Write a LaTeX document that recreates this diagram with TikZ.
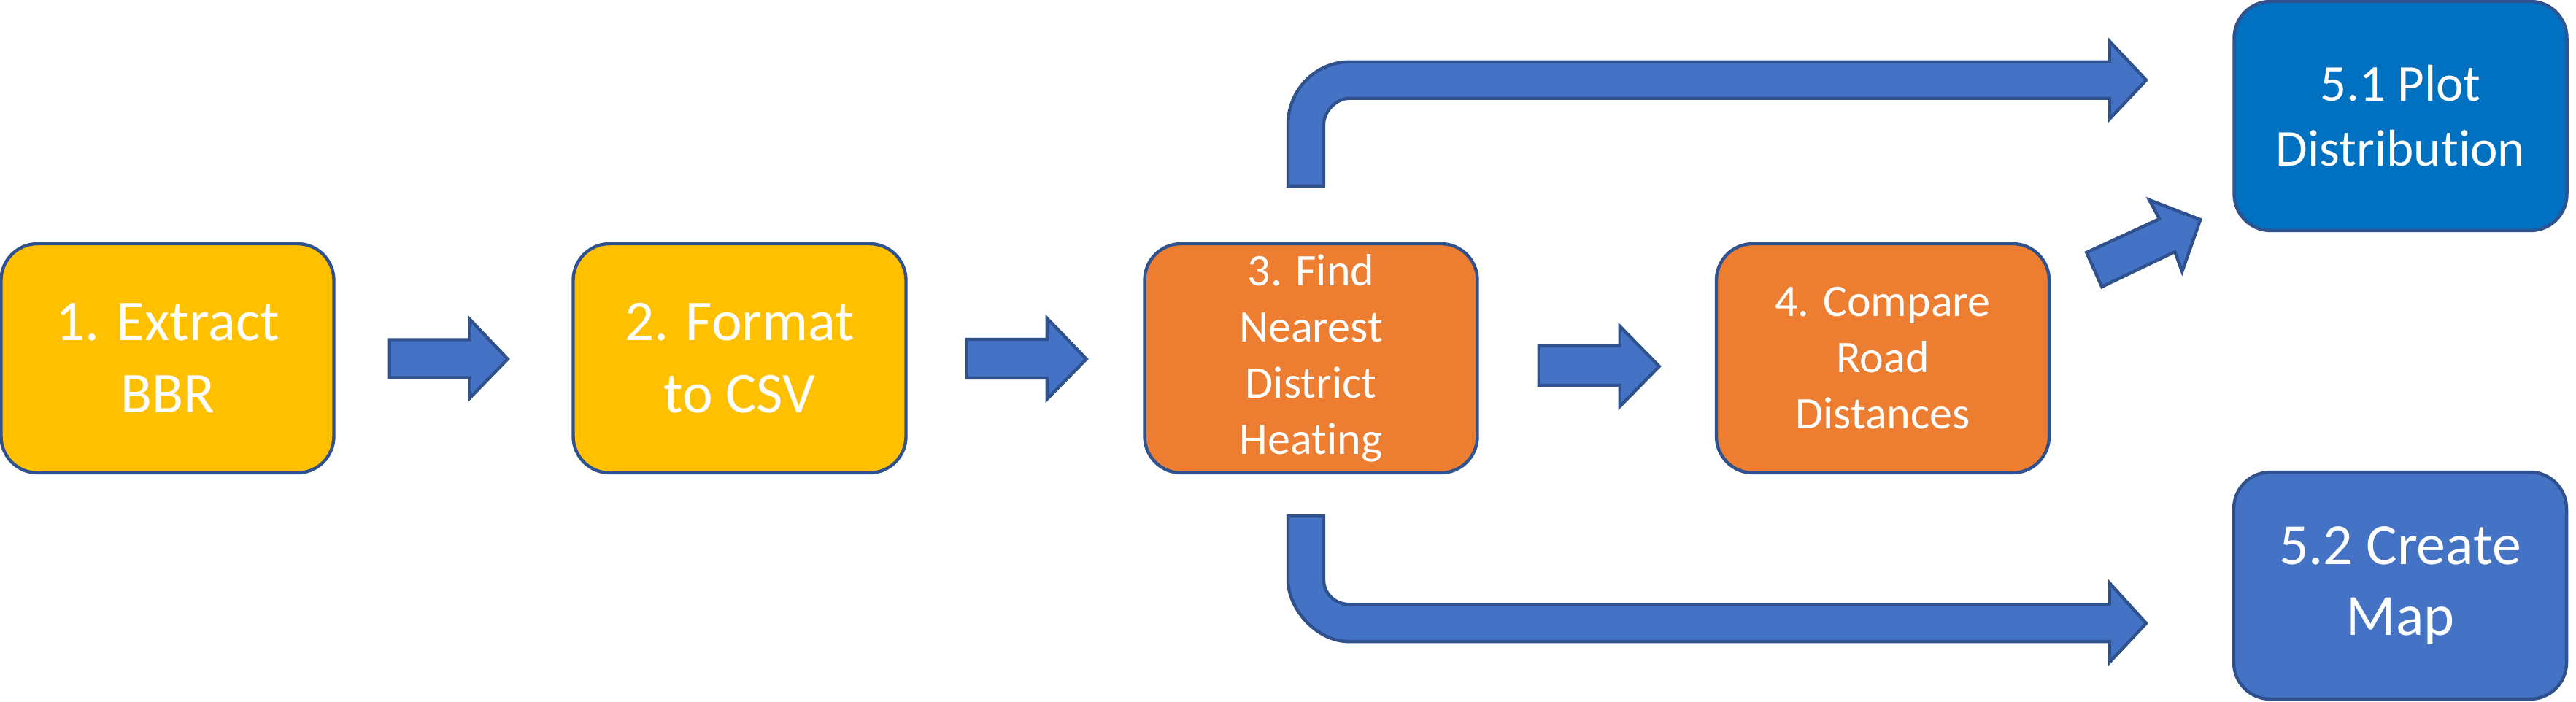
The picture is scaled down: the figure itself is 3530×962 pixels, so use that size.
\documentclass[tikz,border=0pt]{standalone}
\usepackage{fontspec}
\setmainfont{Carlito}[Ligatures=NoCommon]
\usetikzlibrary{calc}
\definecolor{yel}{HTML}{FFC000}
\definecolor{ora}{HTML}{ED7D31}
\definecolor{bluA}{HTML}{0070C0}
\definecolor{bluB}{HTML}{4472C4}
\definecolor{edgec}{HTML}{2F528F}
\begin{document}
\begin{tikzpicture}[x=0.25pt,y=-0.25pt,
  box/.style={draw=edgec,line width=1.1pt,rounded corners=12.5pt,
    minimum width=114pt,minimum height=78.5pt,inner sep=0pt,
    align=center,text=white},
  bigtxt/.style={font=\fontsize{19.75pt}{24.75pt}\selectfont},
  midtxt/.style={font=\fontsize{15.5pt}{19.25pt}\selectfont},
  plottxt/.style={font=\fontsize{17.75pt}{22.25pt}\selectfont},
  maptxt/.style={font=\fontsize{20pt}{24.25pt}\selectfont},
  barrow/.style={fill=bluB,draw=edgec,line width=1.1pt,line join=miter}]
\useasboundingbox (0,0) rectangle (3530,962);

\node[box,fill=yel,bigtxt] (b1) at (229.5,491) {1. Extract\\BBR};
\node[box,fill=yel,bigtxt] (b2) at (1013.5,491) {2. Format\\to CSV};
\node[box,fill=ora,midtxt] (b3) at (1796.5,491) {3. Find\\Nearest\\District\\Heating};
\node[box,fill=ora,midtxt] (b4) at (2580,491) {4. Compare\\Road\\Distances};
\node[box,fill=bluA,plottxt] (b51) at (3289.5,159) {5.1 Plot\\Distribution};
\node[box,fill=bluB,maptxt,minimum height=77.75pt] (b52) at (3289,802.5) {5.2 Create\\Map};

% straight block arrows
\draw[barrow,shift={(b1.east)}] (74,-25.5) -- (184,-25.5) -- (184,-53.5) -- (236,1)
  -- (184,54.5) -- (184,26.5) -- (74,26.5) -- cycle;
\draw[barrow,shift={(b2.east)}] (81,-26) -- (191,-26) -- (191,-55) -- (245,1)
  -- (191,56) -- (191,27) -- (81,27) -- cycle;
\draw[barrow,shift={(b3.east)}] (82,-17) -- (193,-17) -- (193,-44) -- (247,11)
  -- (193,66) -- (193,37) -- (82,37) -- cycle;

% diagonal arrow to 5.1
\draw[barrow,shift={(b4.east)}] (49,-145) -- (149,-191) -- (135,-217) -- (205,-190)
  -- (180,-119) -- (170,-146) -- (70,-98) -- cycle;

% bent arrow top (3 -> 5.1)
\draw[barrow,shift={(b3.north)}] (-31.5,-77) -- (-31.5,-161)
  .. controls (-31.5,-208.5) and (6.1,-247) .. (52.5,-247)
  -- (1094.5,-247) -- (1094.5,-275) -- (1144.5,-222) -- (1094.5,-169)
  -- (1094.5,-197) -- (52.5,-197)
  .. controls (33.2,-197) and (17.5,-177.7) .. (17.5,-162)
  -- (17.5,-77) -- cycle;

% bent arrow bottom (3 -> 5.2)
\draw[barrow,shift={(b3.south)}] (-31.5,57) -- (17.5,57) -- (17.5,145)
  .. controls (17.5,163.2) and (33.2,178) .. (52.5,178)
  -- (1094.5,178) -- (1094.5,149) -- (1144.5,204) -- (1094.5,257)
  -- (1094.5,229) -- (52.5,229)
  .. controls (6.1,229) and (-31.5,182.6) .. (-31.5,145) -- cycle;
\end{tikzpicture}
\end{document}
